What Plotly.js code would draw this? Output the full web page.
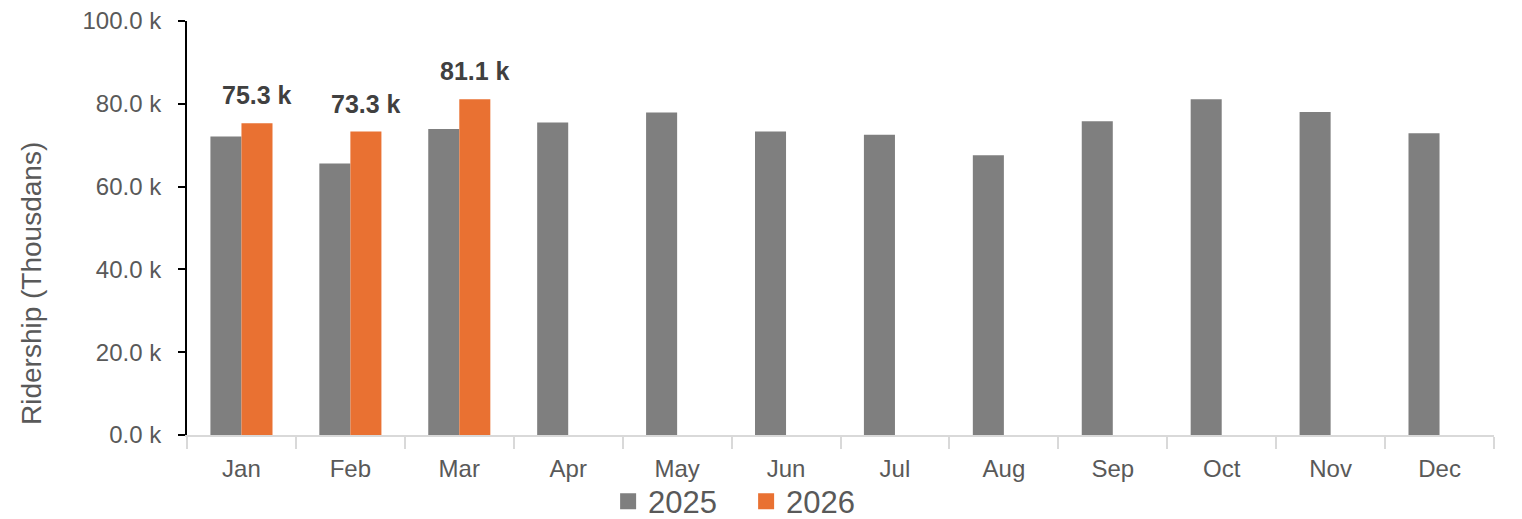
<!DOCTYPE html>
<html>
<head>
<meta charset="utf-8">
<script src="https://cdn.plot.ly/plotly-3.0.1.min.js"></script>
<style>html,body{margin:0;padding:0;background:#fff;}#chart{width:1522px;height:519px;}</style>
</head>
<body>
<div id="chart"></div>
<script>
const months = ["Jan","Feb","Mar","Apr","May","Jun","Jul","Aug","Sep","Oct","Nov","Dec"];
const ridership2025 = [72.1, 65.6, 73.9, 75.5, 77.9, 73.3, 72.5, 67.6, 75.8, 81.1, 78.0, 72.9];
const ridership2026 = [75.3, 73.3, 81.1, null, null, null, null, null, null, null, null, null];
const seriesNames = ["2025", "2026"];
const yTitle = "Ridership (Thousdans)";

const FONT = "Liberation Sans, Arial, sans-serif";
const GREY = "#7f7f7f", ORANGE = "#e97132", TXT = "#595959";
const COLORS = [GREY, ORANGE];

const traces = [
  {type: "bar", name: seriesNames[0], x: months, y: ridership2025, marker: {color: GREY}, showlegend: false},
  {type: "bar", name: seriesNames[1], x: months, y: ridership2026, marker: {color: ORANGE}, showlegend: false}
];
// legend entries (square swatches)
seriesNames.forEach((n, i) => {
  traces.push({type: "scatter", mode: "markers", name: n, x: [null], y: [null],
    marker: {symbol: "square", size: 20, color: COLORS[i]}, showlegend: true, hoverinfo: "skip"});
});

const annotations = [];
months.forEach((m, i) => {
  const v = ridership2026[i];
  if (v !== null && v !== undefined) {
    annotations.push({
      x: m, y: v, xref: "x", yref: "y",
      text: "<b>" + v.toFixed(1) + " k</b>",
      showarrow: false, yanchor: "bottom", xanchor: "center",
      xshift: 16, yshift: 12,
      font: {family: FONT, size: 25, color: "#404040"}
    });
  }
});
// y-axis title (placed like the reference, below the plot centre)
annotations.push({
  text: yTitle, xref: "paper", yref: "paper", x: -0.1194, y: 0.367,
  xanchor: "center", yanchor: "middle", textangle: -90, showarrow: false,
  font: {family: FONT, size: 28, color: TXT}
});

const layout = {
  width: 1522, height: 519,
  margin: {l: 187, r: 28, t: 21, b: 84, autoexpand: false},
  paper_bgcolor: "#fff", plot_bgcolor: "#fff",
  barmode: "group", bargap: 0.43, bargroupgap: 0,
  showlegend: true,
  legend: {orientation: "h", x: 0.3222, xanchor: "left", y: -0.161, yanchor: "middle",
           bgcolor: "rgba(0,0,0,0)",
           font: {family: FONT, size: 31, color: TXT}, itemsizing: "trace", itemwidth: 30,
           entrywidth: 93, entrywidthmode: "pixels",
           traceorder: "normal", tracegroupgap: 0},
  xaxis: {
    type: "category", showgrid: false, zeroline: false, automargin: false,
    showline: true, linecolor: "#d9d9d9", linewidth: 2,
    ticks: "outside", tickson: "boundaries", ticklen: 12, tickcolor: "#d9d9d9", tickwidth: 2,
    ticklabelstandoff: 11,
    tickfont: {family: FONT, size: 24, color: TXT}
  },
  yaxis: {
    range: [0, 100], dtick: 20, tick0: 0, showgrid: false, zeroline: false, automargin: false,
    showline: true, linecolor: "#000", linewidth: 2,
    ticks: "outside", ticklen: 7, tickcolor: "#000", tickwidth: 2,
    tickformat: ".1f", ticksuffix: " k", ticklabelstandoff: 12,
    tickfont: {family: FONT, size: 24, color: TXT}
  },
  annotations: annotations,
  font: {family: FONT}
};

Plotly.newPlot("chart", traces, layout, {displayModeBar: false, staticPlot: true});
</script>
</body>
</html>
